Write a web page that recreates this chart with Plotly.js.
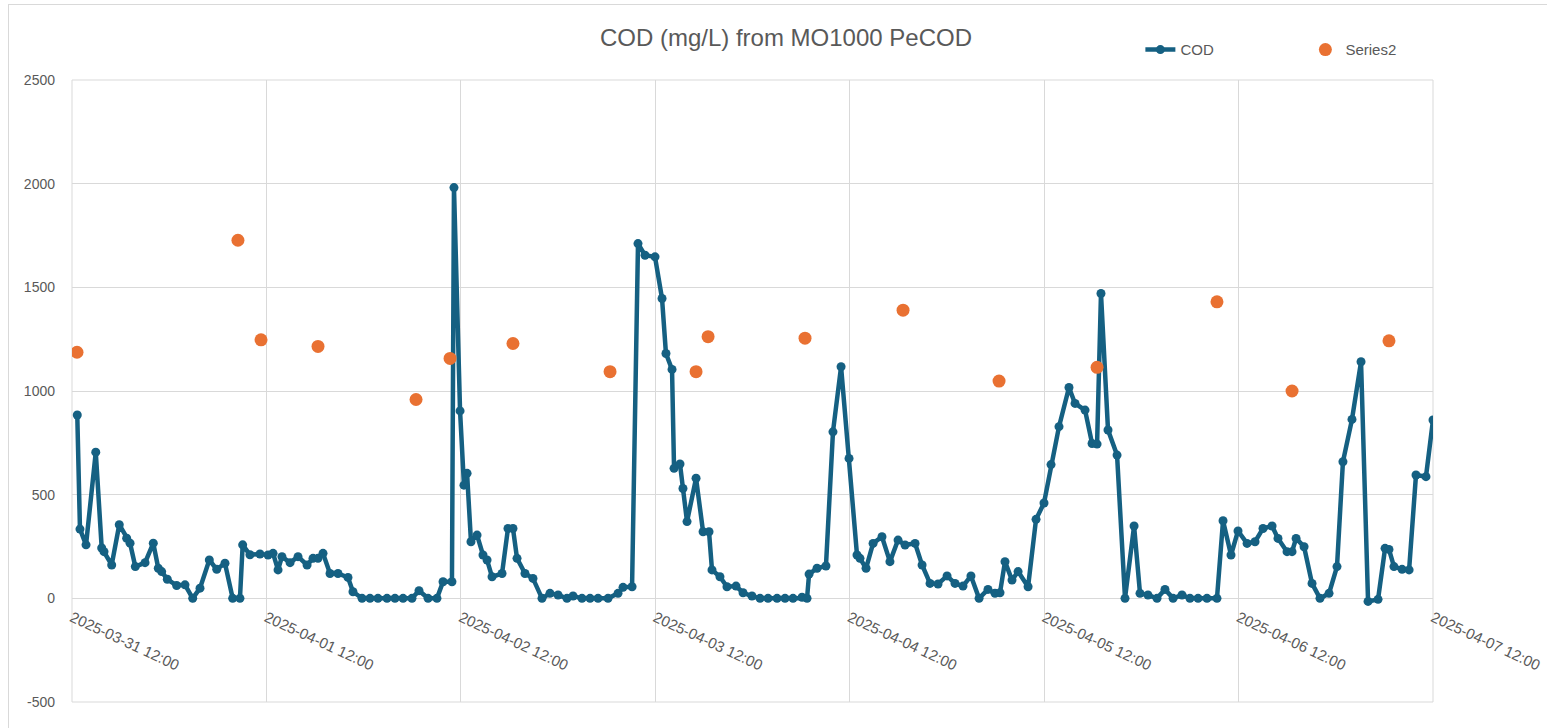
<!DOCTYPE html>
<html>
<head>
<meta charset="utf-8">
<script src="https://cdn.plot.ly/plotly-3.0.1.min.js"></script>
<style>
  html, body { margin: 0; padding: 0; background: #ffffff; }
  #chart { position: absolute; left: 0; top: 0; width: 1547px; height: 728px; }
  #frame { position: absolute; left: 8px; top: 4px; width: 1600px; height: 800px;
           border-left: 1px solid #d9d9d9; border-top: 1px solid #d9d9d9; pointer-events: none; }
</style>
</head>
<body>
<div id="chart"></div>
<div id="frame"></div>
<script>
// COD series (time stamps in 2025, MM-DD HH:MM) and values in mg/L
const codTimes = [
  "03-31 12:39","03-31 12:59","03-31 13:44","03-31 14:56","03-31 15:40","03-31 15:57","03-31 16:54","03-31 17:50",
  "03-31 18:45","03-31 19:10","03-31 19:49","03-31 21:01","03-31 22:02","03-31 22:39","03-31 23:04","03-31 23:46",
  "04-01 00:55","04-01 01:57","04-01 02:54","04-01 03:48","04-01 04:57","04-01 05:52","04-01 06:53","04-01 07:50",
  "04-01 08:44","04-01 09:04","04-01 09:58","04-01 11:12","04-01 12:12","04-01 12:49","04-01 13:26","04-01 13:55",
  "04-01 14:55","04-01 15:54","04-01 17:01","04-01 17:45","04-01 18:22","04-01 18:59","04-01 19:51","04-01 20:50",
  "04-01 22:04","04-01 22:41","04-01 23:48","04-02 00:47","04-02 01:46","04-02 02:53","04-02 03:52","04-02 04:52",
  "04-02 05:58","04-02 06:50","04-02 07:57","04-02 09:03","04-02 09:48","04-02 10:54","04-02 11:09","04-02 11:54",
  "04-02 12:23","04-02 12:46","04-02 13:15","04-02 14:00","04-02 14:44","04-02 15:14","04-02 15:51","04-02 17:05",
  "04-02 17:49","04-02 18:26","04-02 18:56","04-02 19:55","04-02 20:54","04-02 22:01","04-02 23:00","04-03 00:00",
  "04-03 01:06","04-03 01:51","04-03 02:57","04-03 03:57","04-03 04:56","04-03 06:10","04-03 07:24","04-03 08:01",
  "04-03 09:08","04-03 09:52","04-03 10:44","04-03 11:58","04-03 12:50","04-03 13:19","04-03 14:04","04-03 14:19",
  "04-03 15:03","04-03 15:25","04-03 15:55","04-03 17:02","04-03 17:54","04-03 18:38","04-03 19:00","04-03 19:59",
  "04-03 20:51","04-03 21:58","04-03 22:50","04-03 23:56","04-04 00:56","04-04 01:55","04-04 03:02","04-04 04:01",
  "04-04 05:00","04-04 06:07","04-04 06:44","04-04 06:59","04-04 07:58","04-04 09:04","04-04 09:56","04-04 10:56",
  "04-04 11:55","04-04 12:54","04-04 13:16","04-04 14:01","04-04 14:53","04-04 15:59","04-04 16:58","04-04 17:58",
  "04-04 18:50","04-04 20:04","04-04 20:56","04-04 21:55","04-04 22:54","04-05 00:01","04-05 01:00","04-05 01:59",
  "04-05 02:58","04-05 03:58","04-05 05:04","04-05 05:56","04-05 06:33","04-05 07:10","04-05 08:02","04-05 08:47",
  "04-05 10:01","04-05 11:00","04-05 11:59","04-05 12:51","04-05 13:50","04-05 15:04","04-05 15:49","04-05 17:03",
  "04-05 17:55","04-05 18:32","04-05 19:01","04-05 19:53","04-05 21:00","04-05 21:59","04-05 23:06","04-05 23:50",
  "04-06 00:49","04-06 01:56","04-06 02:55","04-06 03:55","04-06 05:01","04-06 06:00","04-06 07:00","04-06 08:06",
  "04-06 09:20","04-06 10:05","04-06 11:04","04-06 11:56","04-06 13:03","04-06 14:02","04-06 15:01","04-06 16:08",
  "04-06 16:52","04-06 17:59","04-06 18:36","04-06 19:06","04-06 20:05","04-06 21:04","04-06 22:03","04-06 23:10",
  "04-07 00:09","04-07 00:53","04-07 02:00","04-07 03:07","04-07 03:59","04-07 05:13","04-07 06:05","04-07 06:34",
  "04-07 07:11","04-07 08:11","04-07 09:03","04-07 09:54","04-07 11:08","04-07 12:00"
];
const codValues = [
  884,334,258,705,243,225,161,355,
  290,266,153,172,266,145,129,92,
  62,65,0,49,185,140,169,0,
  0,258,210,214,209,217,137,201,
  172,201,161,193,193,217,120,120,
  101,32,0,0,0,0,0,0,
  0,37,0,0,80,80,1981,904,
  546,603,273,305,209,185,104,120,
  337,337,193,120,96,0,24,16,
  0,11,0,0,0,0,24,53,
  56,1711,1655,1647,1446,1181,1104,627,
  648,530,370,579,321,321,137,104,
  56,59,27,11,0,0,0,0,
  0,5,0,117,145,156,803,1117,
  675,209,193,145,265,297,177,281,
  257,265,161,72,69,108,72,59,
  108,0,43,24,27,177,88,129,
  56,381,460,645,828,1017,940,908,
  747,744,1470,812,691,0,349,24,
  16,0,43,0,16,0,0,0,
  0,374,209,325,265,273,337,349,
  289,225,225,289,249,72,0,24,
  153,659,863,1141,-15,-5,241,236,
  153,140,137,595,587,860
];

// Series2 (lab samples)
const s2Times = [
  "03-31 12:37","04-01 08:29","04-01 11:20","04-01 18:22","04-02 06:28","04-02 10:40","04-02 18:26","04-03 06:25",
  "04-03 17:02","04-03 18:31","04-04 06:29","04-04 18:35","04-05 06:26","04-05 18:32","04-06 09:20","04-06 18:36",
  "04-07 06:34"
];
const s2Values = [1187,1727,1247,1215,959,1157,1229,1093,1093,1262,1255,1390,1048,1114,1430,1000,1242];

const yTickVals = [-500, 0, 500, 1000, 1500, 2000, 2500];
const xRange = ["2025-03-31 12:00", "2025-04-07 12:00"];

const full = t => "2025-" + t;

const gray = "#595959";
const grid = "#d9d9d9";
const fontFam = "Liberation Sans, Arial, sans-serif";

const traces = [
  {
    x: codTimes.map(full), y: codValues, name: "COD", type: "scatter", mode: "lines+markers",
    line: { color: "#156082", width: 4.5 },
    marker: { color: "#156082", size: 9 }
  },
  {
    x: s2Times.map(full), y: s2Values, name: "Series2", type: "scatter", mode: "markers",
    marker: { color: "#E97132", size: 13 }
  }
];

const layout = {
  width: 1547, height: 728,
  margin: { l: 72, r: 114, t: 80, b: 26 },
  paper_bgcolor: "rgba(0,0,0,0)", plot_bgcolor: "#ffffff",
  font: { family: fontFam, color: gray, size: 14 },
  title: {
    text: "COD (mg/L) from MO1000 PeCOD",
    font: { family: fontFam, size: 24, color: gray },
    x: 0.5246, xref: "paper", xanchor: "center",
    y: 1 - 38 / 728, yref: "container", yanchor: "middle"
  },
  showlegend: true,
  legend: {
    orientation: "h", x: 0.785, xanchor: "left", y: 1.075, yanchor: "top",
    font: { family: fontFam, size: 15, color: gray },
    entrywidth: 120, entrywidthmode: "pixels",
    bgcolor: "rgba(0,0,0,0)"
  },
  shapes: [
    { type: "rect", xref: "paper", yref: "paper", x0: 0, x1: 1, y0: 0, y1: 1,
      line: { color: grid, width: 1 }, layer: "below" }
  ],
  xaxis: {
    type: "date", range: xRange,
    tick0: xRange[0], dtick: 86400000,
    tickformat: "%Y-%m-%d %H:%M", tickangle: 25,
    anchor: "free", position: (0 - (-500)) / 3000,
    showgrid: true, gridcolor: grid, gridwidth: 1,
    showline: false, zeroline: false, ticks: "",
    ticklabelstandoff: 7,
    tickfont: { family: fontFam, size: 15, color: gray }
  },
  yaxis: {
    range: [-500, 2500], tickvals: yTickVals, ticktext: yTickVals.map(String),
    showgrid: true, gridcolor: grid, gridwidth: 1,
    zeroline: false, showline: false, ticks: "",
    ticklabelstandoff: 16,
    tickfont: { family: fontFam, size: 14, color: gray }
  }
};

Plotly.newPlot("chart", traces, layout, { displayModeBar: false, staticPlot: true });
</script>
</body>
</html>
